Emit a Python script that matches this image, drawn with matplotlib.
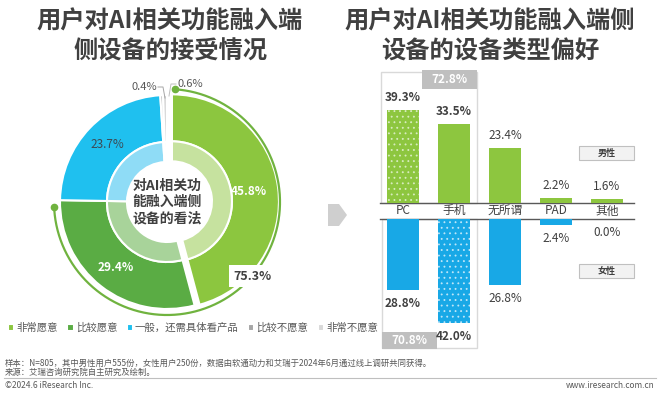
import matplotlib
matplotlib.use('Agg')
import matplotlib.pyplot as plt
import numpy as np
from matplotlib.patches import Rectangle, Polygon

plt.rcParams['font.family'] = ['Noto Sans CJK SC', 'DejaVu Sans']
plt.rcParams['hatch.linewidth'] = 0.6

W, H = 660, 395

# left: attitude towards AI on devices
attitudes = ['非常愿意', '比较愿意', '一般，还需具体看产品', '比较不愿意', '非常不愿意']
attitude_pct = [45.8, 29.4, 23.7, 0.4, 0.6]
willing_total = 75.3

# right: device preference by gender
devices = ['PC', '手机', '无所谓', 'PAD', '其他']
male_pct = [39.3, 33.5, 23.4, 2.2, 1.6]
female_pct = [28.8, 42.0, 26.8, 2.4, 0.0]

dark = '#404040'
mid = '#595959'

fig = plt.figure(figsize=(6.6, 3.95), dpi=100)


def px_axes(x0, y0, x1, y1):
    # axes placed with pixel coordinates (origin top-left)
    return fig.add_axes([x0 / W, 1 - y1 / H, (x1 - x0) / W, (y1 - y0) / H])


# overlay in pixel coords for decorations
deco = px_axes(0, 0, W, H)
deco.set_xlim(0, W)
deco.set_ylim(H, 0)
deco.axis('off')

# titles
deco.text(170, 22, '用户对AI相关功能融入端', ha='center', va='center',
          fontsize=17.5, fontweight='bold', color=dark)
deco.text(170, 52, '侧设备的接受情况', ha='center', va='center',
          fontsize=17.5, fontweight='bold', color=dark)
deco.text(490, 22, '用户对AI相关功能融入端侧', ha='center', va='center',
          fontsize=17.5, fontweight='bold', color=dark)
deco.text(490, 52, '设备的设备类型偏好', ha='center', va='center',
          fontsize=17.5, fontweight='bold', color=dark)

# ---- donut ----
cx, cy = 167, 202
ax_d = px_axes(40, 75, 300, 335)
outer_colors = ['#8cc63f', '#5aac44', '#1fc0ef', '#a6a6a6', '#d9d9d9']
inner_colors = ['#c6e29f', '#a8d39a', '#8fdcf6', '#d0d0d0', '#ececec']
explode = [5, 0, 0, 0, 0]
wedges, _ = ax_d.pie(attitude_pct, radius=107, startangle=90, counterclock=False,
                     colors=outer_colors, explode=explode,
                     wedgeprops=dict(width=47, edgecolor='white', linewidth=1.5))
ax_d.pie(attitude_pct, radius=60, startangle=90, counterclock=False,
         colors=inner_colors, explode=explode,
         wedgeprops=dict(width=20, edgecolor='white', linewidth=1.5))
ax_d.set_xlim(40 - cx, 300 - cx)
ax_d.set_ylim(cy - 335, cy - 75)
ax_d.axis('off')

total = sum(attitude_pct)
cum = 0
label_style = [('white', 'bold'), ('white', 'bold'), ('#3c4a55', 'normal')]
for i, v in enumerate(attitude_pct[:3]):
    ang = np.deg2rad(90 - 360 * (cum + v / 2) / total)
    cum += v
    col, wt = label_style[i]
    ax_d.text(83 * np.cos(ang), 83 * np.sin(ang), f'{v:.1f}%', ha='center', va='center',
              fontsize=8.5, color=col, fontweight=wt)

# tiny slices: labels outside with leader lines
ax_d.text(-10, 115, f'{attitude_pct[3]:.1f}%', ha='right', va='center', fontsize=8, color=mid)
ax_d.plot([-9, -4, -2], [115, 115, 104], color='#a6a6a6', lw=0.7)
ax_d.text(10, 118, f'{attitude_pct[4]:.1f}%', ha='left', va='center', fontsize=8, color=mid)
ax_d.plot([9, 4, 2], [118, 118, 106], color='#bfbfbf', lw=0.7)

# bracket arc for the "willing" total
a0 = 90 - 4
a1 = 90 - 360 * willing_total / total + 4
t = np.deg2rad(np.linspace(a0, a1, 200))
ax_d.plot(113 * np.cos(t), 113 * np.sin(t), color='#70b33f', lw=1.6)
ax_d.plot(113 * np.cos(t[[0, -1]]), 113 * np.sin(t[[0, -1]]), 'o', color='#70b33f', ms=4.5)
tl = np.deg2rad(-41)
ax_d.text(113 * np.cos(tl), 113 * np.sin(tl), f'{willing_total:.1f}%', ha='center', va='center',
          fontsize=9, fontweight='bold', color=dark,
          bbox=dict(boxstyle='square,pad=0.35', fc='white', ec='none'))

ax_d.text(0, 0, '对AI相关功\n能融入端侧\n设备的看法', ha='center', va='center',
          fontsize=10, fontweight='bold', color=dark, linespacing=1.2)

fig.legend(wedges, attitudes, loc='center left', bbox_to_anchor=(3 / W, 1 - 328 / H),
           ncol=5, frameon=False, fontsize=7.5, labelcolor=mid, handlelength=0.6,
           handleheight=0.6, handletextpad=0.2, columnspacing=0.9, borderpad=0)

# arrow between panels
deco.add_patch(Polygon([(328, 204), (339, 204), (347, 215), (339, 226), (328, 226)],
                       closed=True, fc='#cfcfcf', ec='none'))

# ---- bars ----
x = np.arange(len(devices))
green, blue = '#8dc63f', '#18a8e6'

ax_m = px_axes(378, 60, 636, 203)
ax_m.set_xlim((378 - 403) / 51, (636 - 403) / 51)
ax_m.set_ylim(0, 143 / 2.366)
ax_m.axis('off')
bars_m = ax_m.bar(x, male_pct, width=0.63, color=green, linewidth=0)
bars_m[0].set_hatch('...')
bars_m[0].set_edgecolor('#d8ecc0')

ax_f = px_axes(378, 219, 636, 352)
ax_f.set_xlim((378 - 403) / 51, (636 - 403) / 51)
ax_f.set_ylim(133 / 2.47, 0)
ax_f.axis('off')
bars_f = ax_f.bar(x, female_pct, width=0.63, color=blue, linewidth=0)
bars_f[1].set_hatch('...')
bars_f[1].set_edgecolor('#bfe6f8')

for i in x:
    wt = 'bold' if i < 2 else 'normal'
    ax_m.annotate(f'{male_pct[i]:.1f}%', (i, male_pct[i]), xytext=(0, 6),
                  textcoords='offset pixels', ha='center', va='bottom',
                  fontsize=8.5, color=dark, fontweight=wt)
    ax_f.annotate(f'{female_pct[i]:.1f}%', (i, female_pct[i]), xytext=(0, -7),
                  textcoords='offset pixels', ha='center', va='top',
                  fontsize=8.5, color=dark, fontweight=wt)
    ax_m.annotate(devices[i], (i, 0), xytext=(0, -8), textcoords='offset pixels',
                  ha='center', va='center', fontsize=8.5, color=dark)

deco.plot([380, 634], [203, 203], color=mid, lw=1)
deco.plot([380, 634], [219, 219], color=mid, lw=1)

# PC + phone totals
deco.add_patch(Rectangle((381, 72), 96, 131, fc='none', ec='#d9d9d9', lw=1))
deco.add_patch(Rectangle((422, 70), 55, 19, fc='#bfbfbf', ec='none'))
deco.text(449.5, 79.5, f'{male_pct[0] + male_pct[1]:.1f}%', ha='center', va='center',
          fontsize=8.5, fontweight='bold', color='white')
deco.add_patch(Rectangle((382, 219), 95, 129, fc='none', ec='#d9d9d9', lw=1))
deco.add_patch(Rectangle((382, 332), 55, 17, fc='#bfbfbf', ec='none'))
deco.text(409.5, 341, f'{female_pct[0] + female_pct[1]:.1f}%', ha='center', va='center',
          fontsize=8.5, fontweight='bold', color='white')

# gender tags
for y0, tag in [(146, '男性'), (264, '女性')]:
    deco.add_patch(Rectangle((579, y0), 55, 14, fc='#f2f2f2', ec='#c0c0c0', lw=0.8))
    deco.text(606.5, y0 + 7, tag, ha='center', va='center', fontsize=6.5,
              fontweight='bold', color=dark)

# footer
deco.text(5, 363, '样本：N=805，其中男性用户555份，女性用户250份，数据由软通动力和艾瑞于2024年6月通过线上调研共同获得。',
          ha='left', va='center', fontsize=6, color=mid)
deco.text(5, 372, '来源：艾瑞咨询研究院自主研究及绘制。', ha='left', va='center', fontsize=6, color=mid)
deco.plot([4, 656], [378, 378], color='#bfbfbf', lw=0.8)
deco.text(5, 386, '©2024.6 iResearch Inc.', ha='left', va='center', fontsize=6, color=mid)
deco.text(655, 386, 'www.iresearch.com.cn', ha='right', va='center', fontsize=6, color=mid)

fig.savefig('out.png', dpi=100)
